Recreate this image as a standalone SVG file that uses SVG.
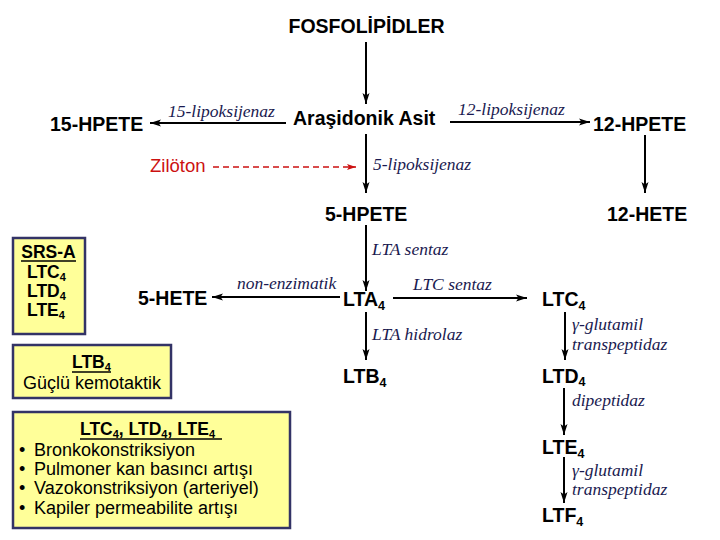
<svg xmlns="http://www.w3.org/2000/svg" width="720" height="540" viewBox="0 0 720 540">
<defs>
<marker id="ah" markerUnits="userSpaceOnUse" markerWidth="12" markerHeight="8" refX="11" refY="4" orient="auto">
<path d="M0,0.5 L11,4 L0,7.5 L2.5,4 Z" fill="#000"/>
</marker>
<marker id="ahr" markerUnits="userSpaceOnUse" markerWidth="10" markerHeight="8" refX="9" refY="4" orient="auto">
<path d="M0,1 L9,4 L0,7 L2,4 Z" fill="#cc1111"/>
</marker>
</defs>
<style>
.n{font-family:"Liberation Sans",Arial,sans-serif;font-weight:bold;font-size:19.5px;fill:#000}
.s{font-size:12.5px}
.bs{font-size:11px}
.e{font-family:"Liberation Serif","Times New Roman",serif;font-style:italic;font-size:17.5px;fill:#1a1a50}
.box{fill:#ffff99;stroke:#333366;stroke-width:2.5}
.bh{font-family:"Liberation Sans",Arial,sans-serif;font-weight:bold;font-size:17.5px;fill:#000}
.bt{font-family:"Liberation Sans",Arial,sans-serif;font-size:18px;fill:#000}
.c{stroke:#000;stroke-width:2;fill:none;marker-end:url(#ah)}
.ul{stroke:#000;stroke-width:1.6}
</style>
<rect width="720" height="540" fill="#fff"/>

<g id="connectors">
<line class="c" x1="366" y1="42" x2="366" y2="104"/>
<line class="c" x1="366" y1="134" x2="366" y2="193"/>
<line class="c" x1="645" y1="135" x2="645" y2="193"/>
<line class="c" x1="366" y1="225" x2="366" y2="291"/>
<line class="c" x1="366" y1="312" x2="366" y2="360"/>
<line class="c" x1="565" y1="312" x2="565" y2="360"/>
<line class="c" x1="564" y1="388" x2="564" y2="435"/>
<line class="c" x1="564" y1="457" x2="564" y2="503"/>
<line class="c" x1="286" y1="123" x2="150" y2="123"/>
<line class="c" x1="450" y1="122" x2="590" y2="122"/>
<line class="c" x1="393" y1="298" x2="527" y2="298"/>
<line class="c" x1="340" y1="297" x2="212" y2="297"/>
<line x1="213" y1="167" x2="356" y2="167" stroke="#cc1111" stroke-width="1.6" stroke-dasharray="6,4" marker-end="url(#ahr)"/>
<text class="e" x="168" y="117">15-lipoksijenaz</text>
<text class="e" x="458" y="115">12-lipoksijenaz</text>
<text class="e" x="373" y="170">5-lipoksijenaz</text>
<text class="e" x="372" y="255">LTA sentaz</text>
<text class="e" x="413" y="290">LTC sentaz</text>
<text class="e" x="237" y="289">non-enzimatik</text>
<text class="e" x="372" y="340">LTA hidrolaz</text>
<text class="e" x="572" y="330">γ-glutamil</text>
<text class="e" x="572" y="350">transpeptidaz</text>
<text class="e" x="572" y="406">dipeptidaz</text>
<text class="e" x="572" y="476">γ-glutamil</text>
<text class="e" x="572" y="495">transpeptidaz</text>
</g>

<g id="fosfolipidler"><text class="n" x="366.5" y="33" text-anchor="middle">FOSFOLİPİDLER</text></g>
<g id="arasidonik"><text class="n" x="293" y="125">Araşidonik Asit</text></g>
<g id="hpete15"><text class="n" x="50" y="131">15-HPETE</text></g>
<g id="hpete12"><text class="n" x="593" y="131">12-HPETE</text></g>
<g id="ziloton"><text x="150" y="172" font-family="Liberation Sans,Arial,sans-serif" font-size="18.5" fill="#cc1111">Zilöton</text></g>
<g id="hpete5"><text class="n" x="325" y="221">5-HPETE</text></g>
<g id="hete12"><text class="n" x="607" y="221">12-HETE</text></g>
<g id="lta4"><text class="n" x="343" y="306">LTA<tspan class="s" dy="4">4</tspan></text></g>
<g id="hete5"><text class="n" x="138" y="305">5-HETE</text></g>
<g id="ltc4"><text class="n" x="542" y="306">LTC<tspan class="s" dy="4">4</tspan></text></g>
<g id="ltb4"><text class="n" x="343" y="383">LTB<tspan class="s" dy="4">4</tspan></text></g>
<g id="ltd4"><text class="n" x="542" y="383">LTD<tspan class="s" dy="3">4</tspan></text></g>
<g id="lte4"><text class="n" x="542" y="454">LTE<tspan class="s" dy="4">4</tspan></text></g>
<g id="ltf4"><text class="n" x="542" y="522">LTF<tspan class="s" dy="4">4</tspan></text></g>

<g id="box-srsa">
<rect class="box" x="13" y="238" width="72" height="96"/>
<text class="bh" x="48.5" y="258" text-anchor="middle">SRS-A</text>
<line class="ul" x1="21" y1="261" x2="76" y2="261"/>
<text class="bh" x="27" y="278">LTC<tspan class="bs" dy="3">4</tspan></text>
<text class="bh" x="27" y="297">LTD<tspan class="bs" dy="3">4</tspan></text>
<text class="bh" x="27" y="316">LTE<tspan class="bs" dy="3">4</tspan></text>
</g>

<g id="box-ltb4">
<rect class="box" x="13" y="345" width="158" height="53"/>
<text class="bh" x="72" y="368">LTB<tspan class="bs" dy="3">4</tspan></text>
<line class="ul" x1="72" y1="372" x2="111" y2="372"/>
<text class="bt" x="92" y="389" text-anchor="middle" font-size="17">Güçlü kemotaktik</text>
</g>

<g id="box-effects">
<rect class="box" x="13" y="412" width="277" height="116"/>
<text class="bh" x="80" y="435">LTC<tspan class="bs" dy="3">4</tspan><tspan dy="-3">, LTD</tspan><tspan class="bs" dy="3">4</tspan><tspan dy="-3">, LTE</tspan><tspan class="bs" dy="3">4</tspan></text>
<line class="ul" x1="80" y1="439" x2="222" y2="439"/>
<text class="bt" x="19" y="456">•</text><text class="bt" x="34" y="456">Bronkokonstriksiyon</text>
<text class="bt" x="19" y="475">•</text><text class="bt" x="34" y="475">Pulmoner kan basıncı artışı</text>
<text class="bt" x="19" y="494">•</text><text class="bt" x="34" y="494">Vazokonstriksiyon (arteriyel)</text>
<text class="bt" x="19" y="514">•</text><text class="bt" x="34" y="514">Kapiler permeabilite artışı</text>
</g>
</svg>
